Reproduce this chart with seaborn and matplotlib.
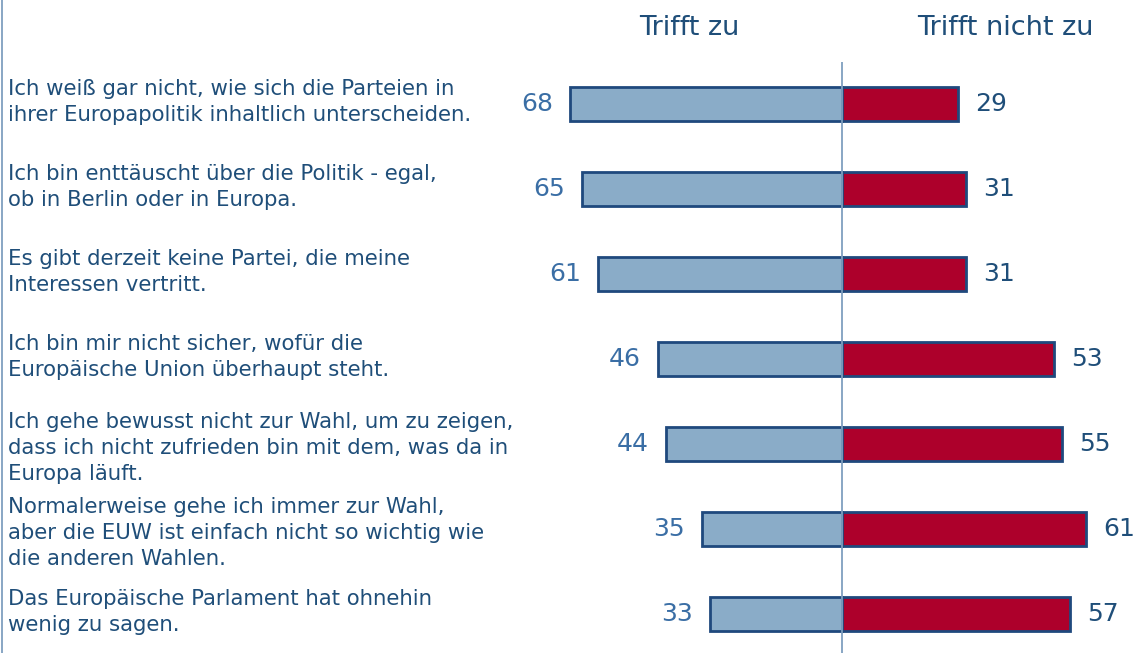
import matplotlib
matplotlib.use("Agg")
import matplotlib.pyplot as plt
import seaborn as sns
import pandas as pd
import numpy as np

statements = [
    "Ich weiß gar nicht, wie sich die Parteien in\nihrer Europapolitik inhaltlich unterscheiden.",
    "Ich bin enttäuscht über die Politik - egal,\nob in Berlin oder in Europa.",
    "Es gibt derzeit keine Partei, die meine\nInteressen vertritt.",
    "Ich bin mir nicht sicher, wofür die\nEuropäische Union überhaupt steht.",
    "Ich gehe bewusst nicht zur Wahl, um zu zeigen,\ndass ich nicht zufrieden bin mit dem, was da in\nEuropa läuft.",
    "Normalerweise gehe ich immer zur Wahl,\naber die EUW ist einfach nicht so wichtig wie\ndie anderen Wahlen.",
    "Das Europäische Parlament hat ohnehin\nwenig zu sagen.",
]
trifft_zu = [68, 65, 61, 46, 44, 35, 33]
trifft_nicht_zu = [29, 31, 31, 53, 55, 61, 57]
headers = ["Trifft zu", "Trifft nicht zu"]

sns.set_theme(style="white")
plt.rcParams["font.family"] = ["DejaVu Sans"]

TEXT = "#1F4E79"
EDGE = "#1F497D"
BLUE = "#8AACC8"
RED = "#AD002B"
LINE = "#7F9FBF"

df = pd.DataFrame({
    "stmt": statements,
    "zu": [-v for v in trifft_zu],
    "nicht": trifft_nicht_zu,
})

fig = plt.figure(figsize=(11.37, 6.53), dpi=100)
ax = fig.add_axes([0, 0, 1, 1])

sns.barplot(data=df, x="zu", y="stmt", orient="h", color=BLUE, saturation=1,
            edgecolor=EDGE, linewidth=2.0, width=0.4, ax=ax, zorder=2)
sns.barplot(data=df, x="nicht", y="stmt", orient="h", color=RED, saturation=1,
            edgecolor=EDGE, linewidth=2.0, width=0.4, ax=ax, zorder=2)

px = 4.0       # pixels per unit on x
center = 842.0
ypx0, ystep = 104.0, 85.0
xl = (-center / px, (1137 - center) / px)
yl = ((653 - ypx0) / ystep, (0 - ypx0) / ystep)
ax.set_xlim(*xl)
ax.set_ylim(*yl)

ax.vlines(0, (62 - ypx0) / ystep, yl[0], color=LINE, lw=1.3, zorder=3)

for i, s in enumerate(statements):
    nlines = s.count("\n") + 1
    dy = (4 if nlines == 3 else -2) / ystep
    ax.text(xl[0] + 8 / px, i + dy, s, ha="left", va="center", fontsize=15.3,
            color=TEXT, linespacing=1.36)
    ax.text(-trifft_zu[i] - 17 / px, i, str(trifft_zu[i]), ha="right", va="center",
            fontsize=18, color="#3A6EA5")
    ax.text(trifft_nicht_zu[i] + 17 / px, i, str(trifft_nicht_zu[i]), ha="left",
            va="center", fontsize=18, color=TEXT)

yh = (28 - ypx0) / ystep
ax.text((689 - center) / px, yh, headers[0], ha="center", va="center", fontsize=19.5, color=TEXT)
ax.text((1005 - center) / px, yh, headers[1], ha="center", va="center", fontsize=19.5, color=TEXT)

ax.set_xlabel("")
ax.set_ylabel("")
ax.set_xticks([])
ax.set_yticks([])
for sp in ax.spines.values():
    sp.set_visible(False)
fig.add_artist(plt.Line2D([1.5 / 1137, 1.5 / 1137], [0, 1], color=LINE, lw=1.3,
                          transform=fig.transFigure))

fig.savefig("out.png", dpi=100)
